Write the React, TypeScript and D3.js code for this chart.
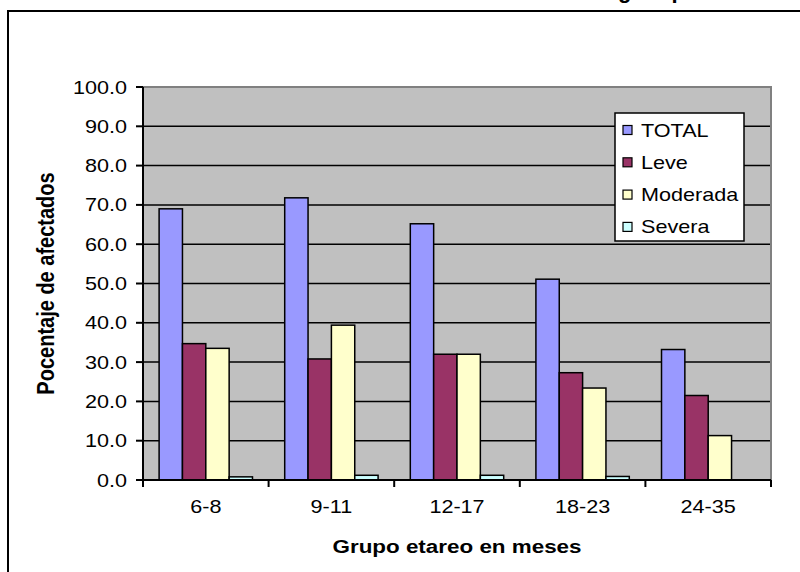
import React from "react";
import * as d3 from "d3";

const categories = ["6-8", "9-11", "12-17", "18-23", "24-35"];
const seriesNames = ["TOTAL", "Leve", "Moderada", "Severa"];
const totalValues = [69.0, 71.8, 65.2, 51.1, 33.2];
const leveValues = [34.7, 30.8, 32.0, 27.3, 21.5];
const moderadaValues = [33.5, 39.4, 32.0, 23.4, 11.3];
const severaValues = [0.8, 1.2, 1.2, 0.9, 0.0];
const seriesColors = ["#9999FF", "#993366", "#FFFFCC", "#CCFFFF"];
const yTicks = [0, 10, 20, 30, 40, 50, 60, 70, 80, 90, 100];
const xTitle = "Grupo etareo en meses";
const yTitle = "Pocentaje de afectados";
const titleFragment = "grupo";

const W = 800;
const H = 572;
const FONT = "'Liberation Sans', Arial, sans-serif";
const SX = 1.2;

export default function App() {
  const seriesValues = [totalValues, leveValues, moderadaValues, severaValues];
  const plot = { left: 143, right: 771, top: 87, bottom: 480 };
  const x = d3.scaleBand<string>().domain(categories).range([plot.left, plot.right]).padding(0);
  const xi = d3
    .scaleBand<string>()
    .domain(seriesNames)
    .range([0, x.bandwidth()])
    .paddingInner(0)
    .paddingOuter(0.69);
  const y = d3.scaleLinear().domain([0, 100]).range([plot.bottom, plot.top]);

  const legend = { x: 615, y: 113, w: 129, h: 128 };
  const legendRow = 32.3;

  return (
    <svg
      width={W}
      height={H}
      style={{ position: "absolute", left: 0, top: 0, background: "#fff" }}
      fontFamily={FONT}
    >
      {/* outer chart border */}
      <rect x={8} y={11} width={W + 20} height={H + 20} fill="#fff" stroke="#000" strokeWidth={2} />

      {/* clipped title fragment */}
      <text x={618} y={-2} fontSize={22} fontWeight="bold" letterSpacing={6} fill="#000">
        {titleFragment}
      </text>

      {/* plot area */}
      <rect
        x={plot.left}
        y={plot.top}
        width={plot.right - plot.left}
        height={plot.bottom - plot.top}
        fill="#C0C0C0"
      />
      {yTicks
        .filter((t) => t > 0 && t < 100)
        .map((t) => (
          <line
            key={"g" + t}
            x1={plot.left}
            x2={plot.right}
            y1={y(t)}
            y2={y(t)}
            stroke="#000"
            strokeWidth={1.5}
          />
        ))}
      <path
        d={`M${plot.left},${plot.top}H${plot.right}V${plot.bottom}`}
        fill="none"
        stroke="#808080"
        strokeWidth={2}
      />

      {/* bars */}
      {seriesNames.map((s, si) =>
        categories.map((c, ci) => {
          const v = seriesValues[si][ci];
          if (v <= 0) return null;
          const bx = (x(c) as number) + (xi(s) as number);
          return (
            <rect
              key={s + c}
              x={bx}
              y={y(v)}
              width={xi.bandwidth()}
              height={y(0) - y(v)}
              fill={seriesColors[si]}
              stroke="#000"
              strokeWidth={1.5}
            />
          );
        })
      )}

      {/* axes */}
      <line x1={plot.left} x2={plot.left} y1={plot.top} y2={plot.bottom} stroke="#000" strokeWidth={2} />
      <line x1={plot.left - 1} x2={plot.right} y1={plot.bottom} y2={plot.bottom} stroke="#000" strokeWidth={2} />
      {yTicks.map((t) => (
        <g key={"yt" + t}>
          <line x1={plot.left - 7} x2={plot.left} y1={y(t)} y2={y(t)} stroke="#000" strokeWidth={2} />
          <g transform={`translate(127,${y(t) + 6.5}) scale(${SX},1)`}>
            <text textAnchor="end" fontSize={18} fill="#000">
              {t.toFixed(1)}
            </text>
          </g>
        </g>
      ))}
      {[...categories.map((c) => x(c) as number), plot.right].map((px, i) => (
        <line
          key={"xt" + i}
          x1={px}
          x2={px}
          y1={plot.bottom}
          y2={plot.bottom + 7}
          stroke="#000"
          strokeWidth={2}
        />
      ))}
      {categories.map((c) => (
        <g key={"xl" + c} transform={`translate(${(x(c) as number) + x.bandwidth() / 2},513) scale(${SX},1)`}>
          <text textAnchor="middle" fontSize={18} fill="#000">
            {c}
          </text>
        </g>
      ))}

      {/* axis titles */}
      <g transform={`translate(${(plot.left + plot.right) / 2},553) scale(1.18,1)`}>
        <text textAnchor="middle" fontSize={19} fontWeight="bold" fill="#000">
          {xTitle}
        </text>
      </g>
      <g transform={`translate(54,${(plot.top + plot.bottom) / 2}) scale(1.15,1) rotate(-90)`}>
        <text textAnchor="middle" fontSize={20} fontWeight="bold" fill="#000">
          {yTitle}
        </text>
      </g>

      {/* legend */}
      <rect x={legend.x} y={legend.y} width={legend.w} height={legend.h} fill="#fff" stroke="#000" strokeWidth={1.5} />
      {seriesNames.map((s, i) => {
        const cy = legend.y + 17 + i * legendRow;
        return (
          <g key={"lg" + s}>
            <rect x={623} y={cy - 4.5} width={9} height={9} fill={seriesColors[i]} stroke="#000" strokeWidth={1.2} />
            <g transform={`translate(641,${cy + 6.5}) scale(${SX},1)`}>
              <text fontSize={18} fill="#000">
                {s}
              </text>
            </g>
          </g>
        );
      })}
    </svg>
  );
}
